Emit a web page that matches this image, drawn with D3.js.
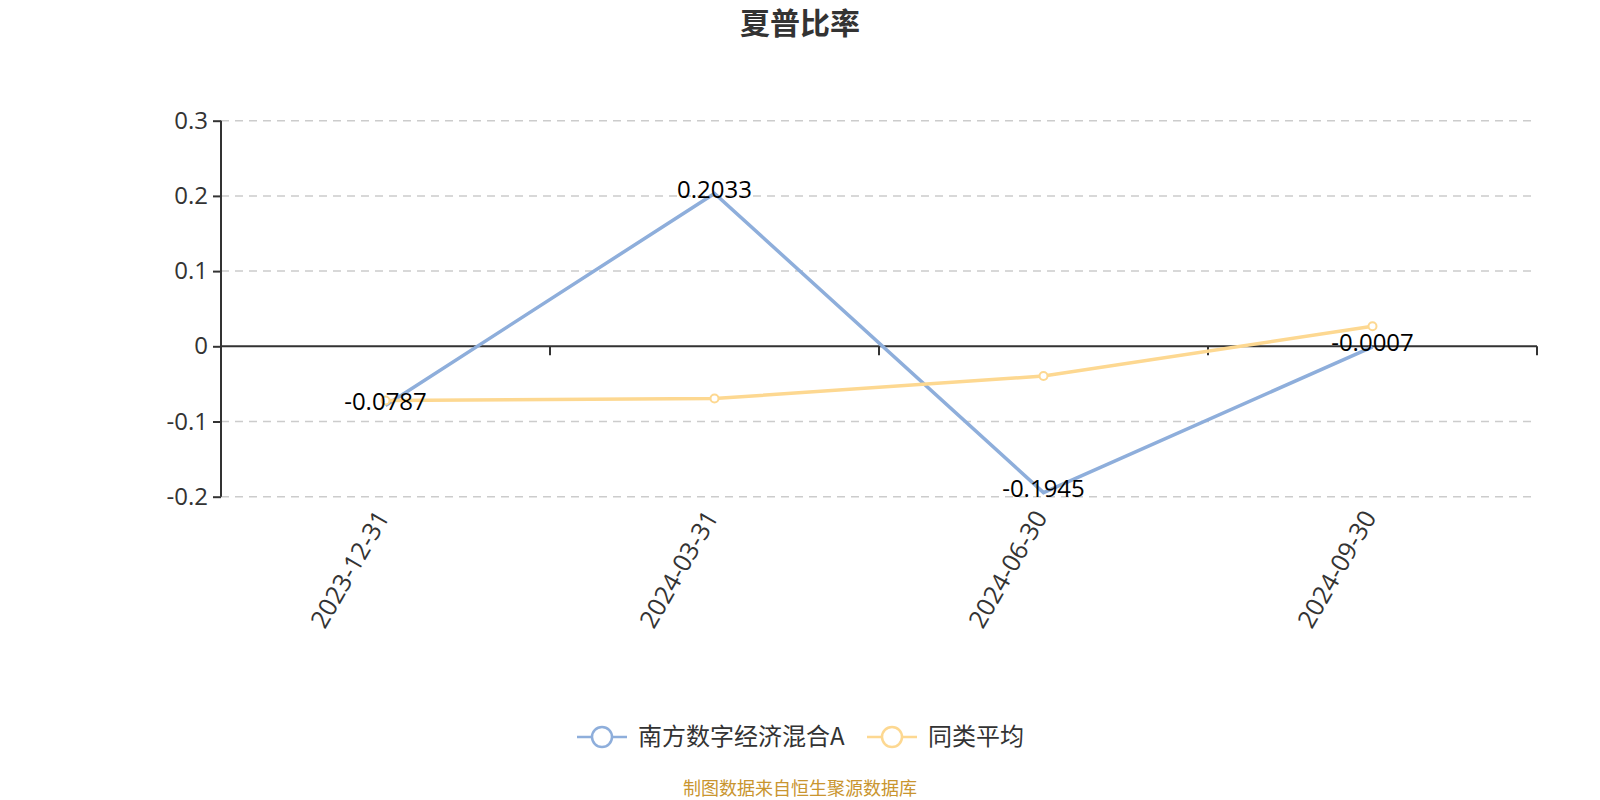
<!DOCTYPE html>
<html><head><meta charset="utf-8">
<script src="https://cdn.jsdelivr.net/npm/d3@7/dist/d3.min.js"></script>
<style>body{margin:0;background:#fff;font-family:"Open Sans","Noto Sans CJK SC",sans-serif;}</style>
</head><body><svg id="c" width="1600" height="800"></svg>
<script>
const categories = ["2023-12-31","2024-03-31","2024-06-30","2024-09-30"];
const fundName = "南方数字经济混合A";
const avgName = "同类平均";
const fundValues = [-0.0787, 0.2033, -0.1945, -0.0007];
const avgValues = [-0.072, -0.0695, -0.0395, 0.0266];
const yTicks = [-0.2, -0.1, 0, 0.1, 0.2, 0.3];
const titleText = "夏普比率";
const footerText = "制图数据来自恒生聚源数据库";

(function () {
const svg = d3.select("#c");
const cjk = '"Noto Sans CJK SC", sans-serif';
const latin = "'Open Sans', sans-serif";
const pLeft = 221, pRight = 1537, pTop = 120.7, pBottom = 496.7;
const x = d3.scaleBand().domain(categories).range([pLeft, pRight]);
const y = d3.scaleLinear().domain([-0.2, 0.3]).range([pBottom, pTop]);
const blue = "#8eaedb", yellow = "#fdd891";

svg.append("text").attr("x", 800).attr("y", 34).attr("text-anchor", "middle")
  .attr("font-family", cjk).attr("font-weight", "bold").attr("font-size", 30).attr("fill", "#333").text(titleText);

// grid
svg.append("g").selectAll("line").data(yTicks.filter(d => d !== 0)).join("line")
  .attr("x1", pLeft).attr("x2", pRight).attr("y1", d => y(d)).attr("y2", d => y(d))
  .attr("stroke", "#ccc").attr("stroke-width", 1.5).attr("stroke-dasharray", "8,6");

// y axis
const ya = svg.append("g").attr("transform", `translate(${pLeft},0)`)
  .call(d3.axisLeft(y).tickValues(yTicks).tickSize(6).tickFormat(d => String(+d.toFixed(1))));
ya.select(".domain").attr("stroke", "#333").attr("stroke-width", 2).attr("d", `M0,${pTop}V${pBottom}`);
ya.selectAll(".tick line").attr("stroke", "#333").attr("stroke-width", 2).attr("x2", -8);
ya.selectAll(".tick text").attr("font-family", latin).attr("font-size", 24).attr("fill", "#333").attr("x", -13);

// x axis at zero
const xa = svg.append("g").attr("transform", `translate(0,${y(0)})`)
  .call(d3.axisBottom(x).tickSize(0).tickFormat(""));
xa.select(".domain").attr("stroke", "#333").attr("stroke-width", 2).attr("d", `M${pLeft},0H${pRight}`);
const bounds = categories.map(c => x(c) + x.bandwidth());
svg.append("g").selectAll("line").data(bounds).join("line")
  .attr("x1", d => d).attr("x2", d => d).attr("y1", y(0)).attr("y2", y(0) + 9)
  .attr("stroke", "#333").attr("stroke-width", 2);

// x labels
svg.append("g").selectAll("text").data(categories).join("text")
  .attr("transform", d => `translate(${x(d) + x.bandwidth() / 2 - 3},${pBottom + 16}) rotate(-60)`)
  .attr("text-anchor", "end").attr("dy", "0.35em")
  .attr("font-family", latin).attr("font-size", 25).attr("fill", "#333").text(d => d);

const cx = d => x(d) + x.bandwidth() / 2;
const line = d3.line().x((d, i) => cx(categories[i])).y(d => y(d));

svg.append("path").datum(fundValues).attr("d", line).attr("fill", "none").attr("stroke", blue).attr("stroke-width", 3.5);
svg.append("path").datum(avgValues).attr("d", line).attr("fill", "none").attr("stroke", yellow).attr("stroke-width", 3.5);
svg.append("g").selectAll("circle").data(avgValues).join("circle")
  .attr("cx", (d, i) => cx(categories[i])).attr("cy", d => y(d)).attr("r", 4)
  .attr("fill", "#fff").attr("stroke", yellow).attr("stroke-width", 2);

svg.append("g").selectAll("text").data(fundValues).join("text")
  .attr("x", (d, i) => cx(categories[i])).attr("y", d => y(d) - 4).attr("dy", "0.35em")
  .attr("text-anchor", "middle").attr("font-family", latin).attr("font-size", 24).attr("fill", "#000")
  .text(d => d);

// legend
const legend = [{name: fundName, color: blue, x: 577}, {name: avgName, color: yellow, x: 867}];
const lg = svg.append("g");
legend.forEach(l => {
  const g = lg.append("g").attr("transform", `translate(${l.x},737)`);
  g.append("line").attr("x1", 0).attr("x2", 50).attr("stroke", l.color).attr("stroke-width", 2.5);
  g.append("circle").attr("cx", 25).attr("r", 10).attr("fill", "#fff").attr("stroke", l.color).attr("stroke-width", 2.5);
  g.append("text").attr("x", 61).attr("dy", "0.35em").attr("font-family", cjk).attr("font-size", 24).attr("fill", "#333").text(l.name);
});

svg.append("text").attr("x", 800).attr("y", 795).attr("text-anchor", "middle")
  .attr("font-family", cjk).attr("font-size", 18).attr("fill", "#c9952f").text(footerText);
})();
</script></body></html>
